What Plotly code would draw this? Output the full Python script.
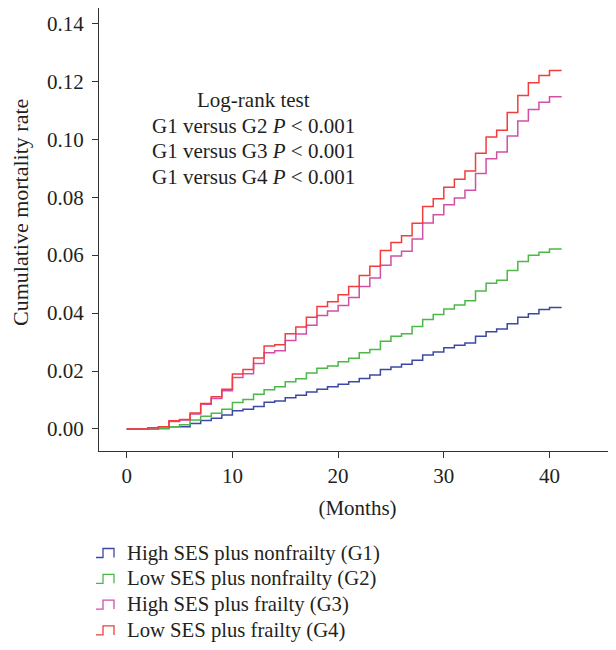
import plotly.graph_objects as go

# ---------------- data ----------------
months = list(range(41))          # step times (months)
end_month = 41.15                 # end of follow-up

g1_high_ses_nonfrail = [0.0000, 0.0000, 0.0000, 0.0002, 0.0008, 0.0008, 0.0019, 0.0029, 0.0037, 0.0048,
                        0.0063, 0.0068, 0.0078, 0.0092, 0.0097, 0.0108, 0.0116, 0.0128, 0.0137, 0.0146,
                        0.0154, 0.0163, 0.0174, 0.0186, 0.0205, 0.0214, 0.0223, 0.0237, 0.0255, 0.0266,
                        0.0280, 0.0289, 0.0297, 0.0320, 0.0336, 0.0345, 0.0363, 0.0386, 0.0398, 0.0412,
                        0.0419]
g2_low_ses_nonfrail = [0.0000, 0.0000, 0.0000, 0.0002, 0.0008, 0.0015, 0.0031, 0.0044, 0.0054, 0.0068,
                       0.0091, 0.0102, 0.0120, 0.0135, 0.0146, 0.0163, 0.0173, 0.0193, 0.0210, 0.0217,
                       0.0232, 0.0244, 0.0263, 0.0274, 0.0303, 0.0320, 0.0329, 0.0354, 0.0378, 0.0395,
                       0.0414, 0.0428, 0.0443, 0.0476, 0.0503, 0.0513, 0.0547, 0.0578, 0.0600, 0.0610,
                       0.0621]
g3_high_ses_frail = [0.0000, 0.0000, 0.0004, 0.0008, 0.0026, 0.0031, 0.0052, 0.0085, 0.0105, 0.0132,
                     0.0178, 0.0191, 0.0226, 0.0263, 0.0270, 0.0305, 0.0328, 0.0358, 0.0392, 0.0407,
                     0.0426, 0.0454, 0.0492, 0.0521, 0.0565, 0.0597, 0.0613, 0.0656, 0.0711, 0.0739,
                     0.0774, 0.0797, 0.0824, 0.0882, 0.0933, 0.0956, 0.1011, 0.1063, 0.1103, 0.1128,
                     0.1147]
g4_low_ses_frail = [0.0000, 0.0000, 0.0004, 0.0008, 0.0028, 0.0033, 0.0055, 0.0088, 0.0111, 0.0137,
                    0.0190, 0.0205, 0.0245, 0.0286, 0.0291, 0.0329, 0.0352, 0.0386, 0.0423, 0.0439,
                    0.0463, 0.0492, 0.0530, 0.0562, 0.0616, 0.0644, 0.0667, 0.0710, 0.0768, 0.0795,
                    0.0834, 0.0862, 0.0890, 0.0952, 0.1008, 0.1031, 0.1092, 0.1151, 0.1195, 0.1220,
                    0.1237]

series_names = ["High SES plus nonfrailty (G1)", "Low SES plus nonfrailty (G2)",
                "High SES plus frailty (G3)", "Low SES plus frailty (G4)"]
series_values = [g1_high_ses_nonfrail, g2_low_ses_nonfrail, g3_high_ses_frail, g4_low_ses_frail]
series_colors = ["#3b49a5", "#4cb848", "#d24fa6", "#f23d3d"]

x_ticks = [0, 10, 20, 30, 40]
y_ticks = [0.00, 0.02, 0.04, 0.06, 0.08, 0.10, 0.12, 0.14]

test_lines = ["Log-rank test",
              "G1 versus G2 <i>P</i> &lt; 0.001",
              "G1 versus G3 <i>P</i> &lt; 0.001",
              "G1 versus G4 <i>P</i> &lt; 0.001"]

# ---------------- layout geometry ----------------
OFF = 8                      # page body margin offset
W, H = 608, 642
L, R, T, B = 91, 0, 0, 199
PW, PH = W - L - R, H - T - B
FONT = "Liberation Serif, Times New Roman, serif"
TXT = "#231f20"
FS = 21


def px(x):
    """screen x (px) -> paper x"""
    return (x - OFF - L) / PW


def py(y):
    """screen y (px) -> paper y"""
    return (H - B - (y - OFF)) / PH


fig = go.Figure()
for name, vals, col in zip(series_names, series_values, series_colors):
    fig.add_trace(go.Scatter(
        x=months + [end_month], y=vals + [vals[-1]],
        mode="lines", line=dict(shape="hv", color=col, width=1.5),
        name=name, showlegend=False))

annotations = []
# y-axis title
annotations.append(dict(
    x=px(20), y=py(213), xref="paper", yref="paper", text="Cumulative mortality rate",
    textangle=-90, showarrow=False, xanchor="center", yanchor="middle",
    font=dict(family=FONT, size=22, color=TXT)))
# log-rank text block
for i, t in enumerate(test_lines):
    annotations.append(dict(
        x=px(253), y=py(100 + 25.6 * i), xref="paper", yref="paper",
        text=t, showarrow=False, xanchor="center", yanchor="middle",
        font=dict(family=FONT, size=FS, color=TXT)))

# custom legend with step-shaped icons
shapes = []
for i, (name, col) in enumerate(zip(series_names, series_colors)):
    yc = 553 + 25.8 * i
    annotations.append(dict(
        x=px(125), y=py(yc), xref="paper", yref="paper",
        text=name, showarrow=False, xanchor="left", yanchor="middle",
        font=dict(family=FONT, size=20.7, color=TXT)))
    yb, yt = yc + 4.5, yc - 4.5
    path = (f"M {px(96)} {py(yb)} L {px(103)} {py(yb)} L {px(103)} {py(yt)} "
            f"L {px(114)} {py(yt)} L {px(114)} {py(yb)}")
    shapes.append(dict(type="path", xref="paper", yref="paper", path=path,
                       line=dict(color=col, width=1.3)))

axis_common = dict(showline=True, linecolor="#333333", linewidth=1.2,
                   ticks="outside", ticklen=6, tickcolor="#333333", tickwidth=1.2,
                   showgrid=False, zeroline=False,
                   tickfont=dict(family=FONT, size=FS, color=TXT))

fig.update_layout(
    width=W, height=H,
    margin=dict(l=L, r=R, t=T, b=B, autoexpand=False),
    paper_bgcolor="white", plot_bgcolor="white",
    xaxis=dict(range=[-2.62, 46.29], tickvals=x_ticks,
               title=dict(text="(Months)", font=dict(family=FONT, size=FS, color=TXT), standoff=13),
               **axis_common),
    yaxis=dict(range=[-0.0076, 0.1453], tickvals=y_ticks, tickformat=".2f",
               ticklabelstandoff=4, **axis_common),
    annotations=annotations, shapes=shapes,
)

fig.write_html("out.html")
